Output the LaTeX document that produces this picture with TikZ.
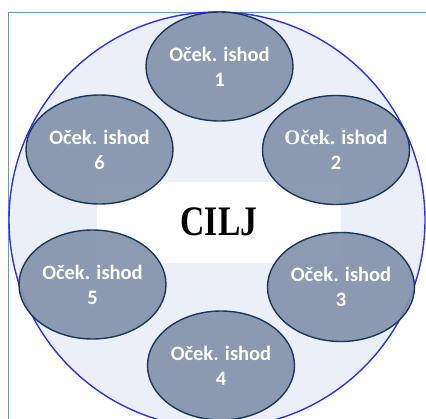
\documentclass[tikz,border=0pt]{standalone}
\usepackage{fontspec}
\setmainfont{Carlito}
\newfontfamily\ciljfont{Liberation Serif}
\usetikzlibrary{shapes.geometric}
\definecolor{framecol}{HTML}{5B9BD5}
\definecolor{circfill}{HTML}{EBF0F8}
\definecolor{circline}{HTML}{3030F0}
\definecolor{ellfill}{HTML}{8494AB}
\definecolor{elline}{HTML}{1B365D}
\tikzset{
  outcome/.style={ellipse, draw=elline, line width=1.4pt, fill=ellfill, fill opacity=0.93,
    text opacity=1, text=white, minimum width=147pt, minimum height=109pt, inner sep=0pt,
    align=center, font=\fontsize{20.5}{25}\selectfont\bfseries},
}
\begin{document}
\begin{tikzpicture}[x=1pt,y=-1pt]
\useasboundingbox (0,0) rectangle (426,418);
\begin{scope}
\clip (0,0) rectangle (426,418);
\draw[framecol, line width=1pt] (8,430) -- (8,12) -- (430,12);
\fill[circfill] (217,220) circle (208);
\fill[white] (97,182) rectangle (341,263);
\draw[circline, line width=1.4pt] (217,220) circle (208);
\node[outcome] (e1) at (219.5,66.5) {Oček. ishod\\1};
\node[outcome] (e2) at (336,150) {{\fontspec{Liberation Serif}Oček.} ishod\\2};
\node[outcome] (e3) at (341,287) {Oček. ishod\\3};
\node[outcome] (e4) at (221,365.5) {Oček. ishod\\4};
\node[outcome] (e5) at (92.5,284.5) {Oček. ishod\\5};
\node[outcome] (e6) at (99.5,149.5) {Oček. ishod\\6};
\node[font=\fontsize{42}{42}\selectfont\ciljfont\bfseries, xscale=0.8, inner sep=0pt] (cilj) at (219,222) {CILJ};
\end{scope}
\end{tikzpicture}
\end{document}
